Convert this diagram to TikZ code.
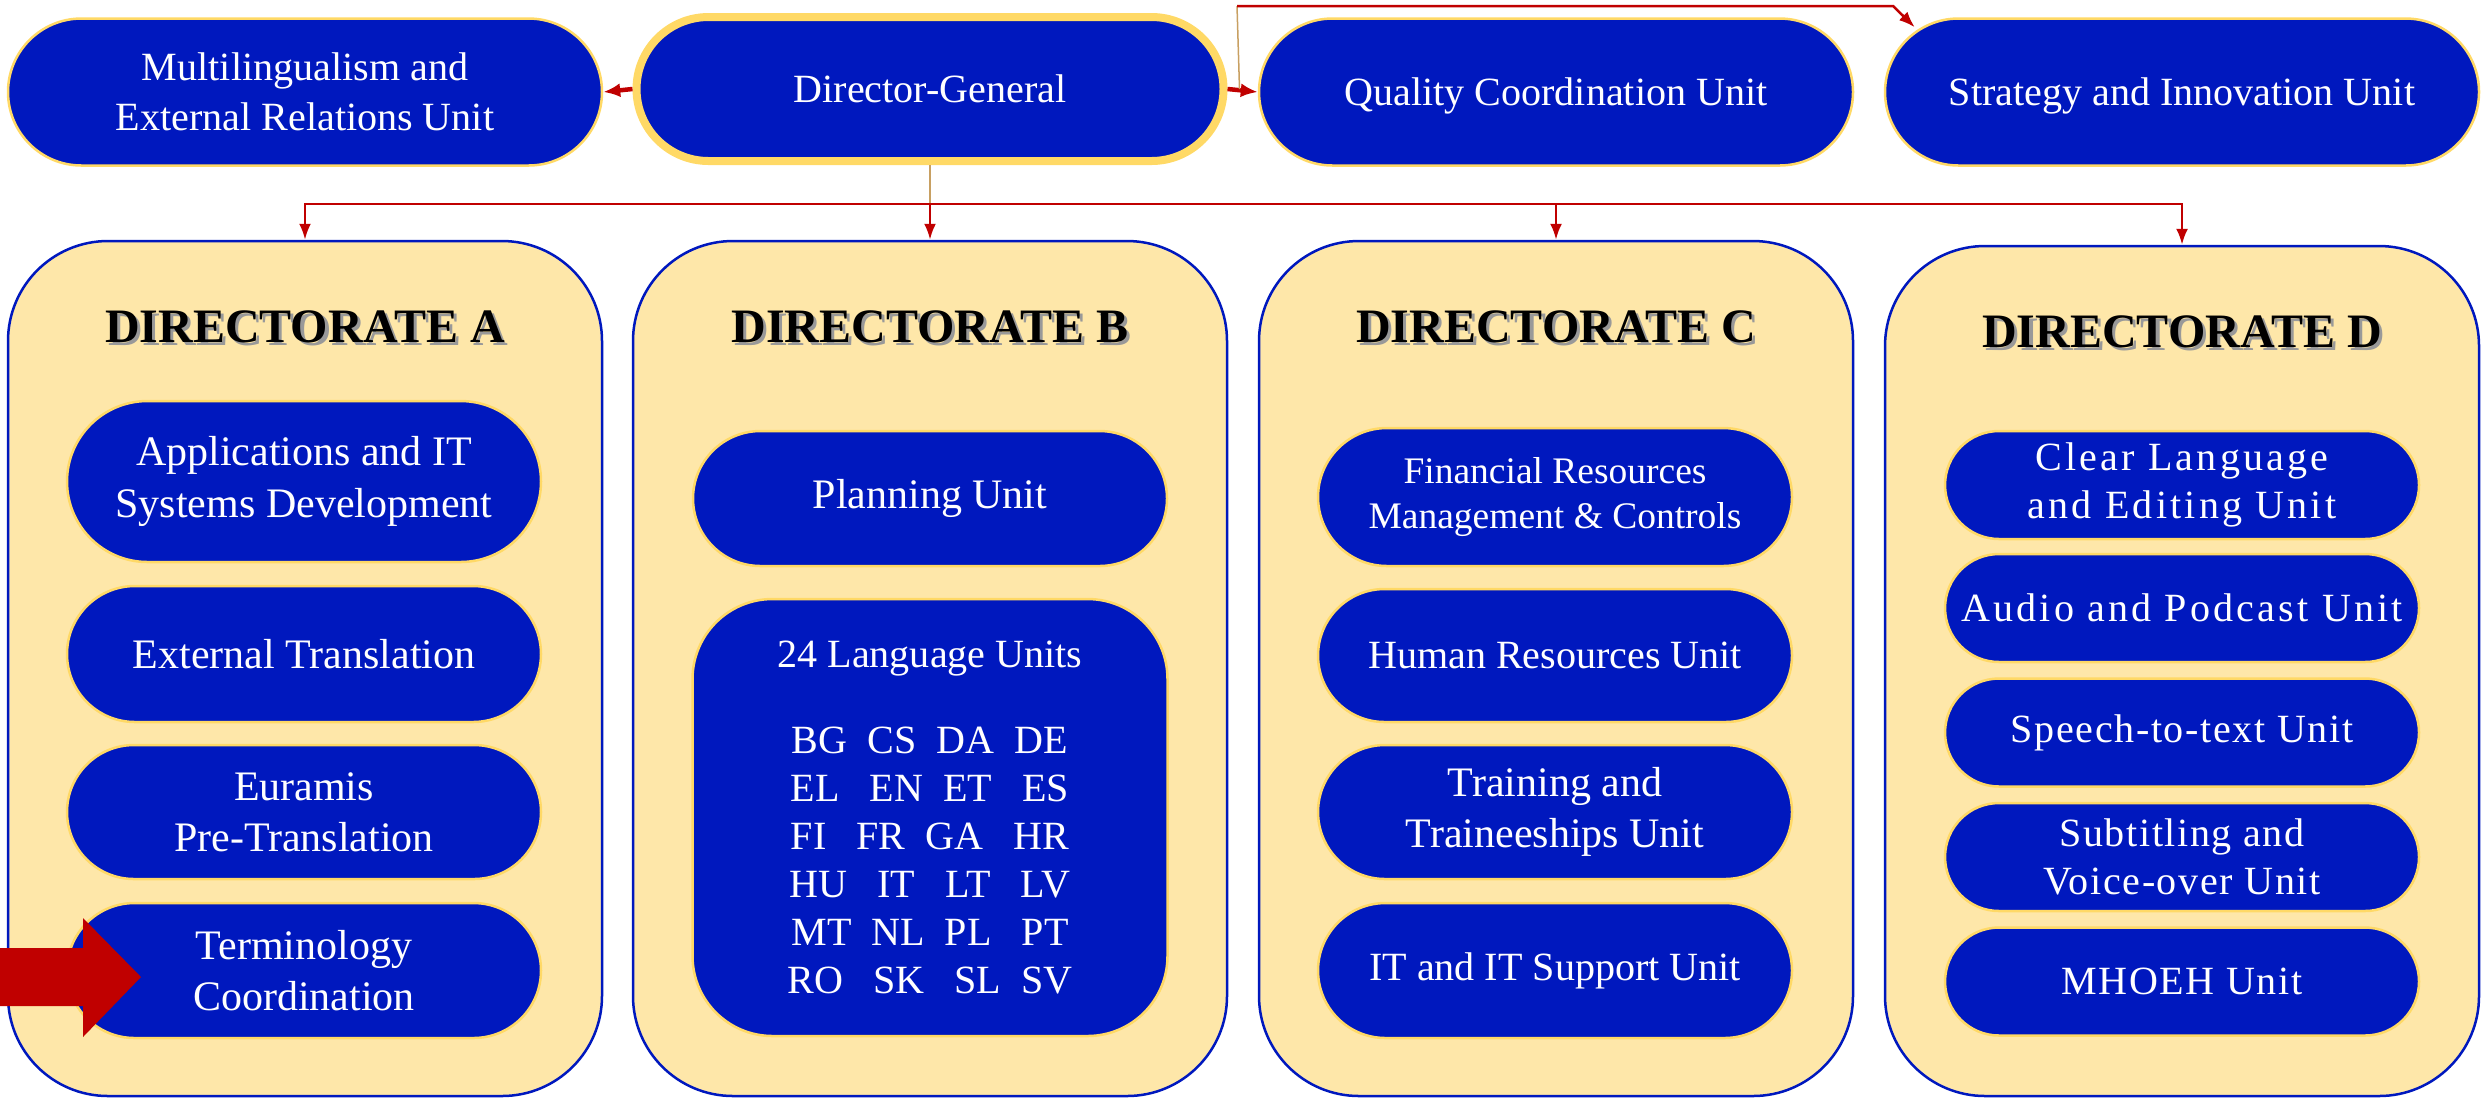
\documentclass[tikz,border=0pt]{standalone}
\usepackage{fontspec}
\setmainfont{Liberation Serif}
\newfontfamily\spacedfont[LetterSpace=4]{Liberation Serif}
\newfontfamily\widerfont[LetterSpace=8]{Liberation Serif}
\usepackage{xcolor}
\usepackage{tikz}
\usetikzlibrary{shapes,arrows,positioning,calc,arrows.meta}

\definecolor{eublue}{HTML}{0018BE}
\definecolor{boxgold}{HTML}{FEE7A9}
\definecolor{rimgold}{HTML}{FFD966}
\definecolor{linkred}{HTML}{C00000}
\definecolor{feedtan}{HTML}{C8A062}

\newcommand{\dirtitle}[1]{\makebox[0pt][l]{\hspace{0.9pt}\raisebox{-0.9pt}{\textcolor{black!40}{#1}}}#1}

\begin{document}
\begin{tikzpicture}[x=0.1mm,y=-0.1mm,
    unit/.style={shape=rounded rectangle, draw=rimgold, line width=0.25mm, fill=eublue, text=white,
        align=center, inner sep=0pt, minimum width=47.4mm, font=\fontsize{11.95}{14.5}\selectfont},
    topunit/.style={unit, minimum width=59.4mm, minimum height=14.7mm, text depth=0pt, font=\fontsize{11.4}{14.2}\selectfont},
    dunit/.style={unit, minimum height=10.8mm, font=\spacedfont\fontsize{11.4}{13.5}\selectfont},
    dirbox/.style={draw=eublue, line width=0.25mm, fill=boxgold, minimum width=59.4mm, rounded corners=10mm, inner sep=0pt},
    dirname/.style={font=\bfseries\fontsize{13.66}{16}\selectfont},
    link/.style={draw=linkred, line width=0.25mm, -{Latex[length=1.6mm,width=1.2mm]}},
    push/.style={draw=linkred, line width=0.45mm, -{Latex[length=1.7mm,width=1.4mm]}},
    feed/.style={draw=feedtan, line width=0.15mm},
]
\useasboundingbox (0,0) rectangle (2484,1098);

    % Top row
    \node[topunit] (ML) at (305,92) {Multilingualism and\\External Relations Unit};
    \node[topunit, line width=0.8mm, minimum width=58.7mm, minimum height=14.4mm] (DG) at (930,89) {Director-General};
    \node[topunit] (QC) at (1556,92) {Quality Coordination Unit};
    \node[topunit] (SI) at (2182,92) {Strategy and Innovation Unit};

    % Directorates
    \node[dirbox, minimum height=85.5mm] (dirA) at (305,668.5) {};
    \node[dirbox, minimum height=85.5mm] (dirB) at (930,668.5) {};
    \node[dirbox, minimum height=85.5mm] (dirC) at (1556,668.5) {};
    \node[dirbox, minimum height=85mm] (dirD) at (2182,671) {};

    \node[dirname] (tA) at (305,328) {\dirtitle{DIRECTORATE A}};
    \node[dirname] (tB) at (930,328) {\dirtitle{DIRECTORATE B}};
    \node[dirname] (tC) at (1556,328) {\dirtitle{DIRECTORATE C}};
    \node[dirname] (tD) at (2182,333) {\dirtitle{DIRECTORATE D}};

    % Directorate A
    \node[unit, minimum height=16.1mm, font=\fontsize{11.95}{15}\selectfont] (appl) at (304,481.5) {Applications and IT\\Systems Development};
    \node[unit, minimum height=13.6mm] (extr) at (304,654) {External Translation};
    \node[unit, minimum height=13.4mm] (eura) at (304,812) {Euramis\\Pre-Translation};
    \node[unit, minimum height=13.5mm] (term) at (304,970.5) {Terminology\\Coordination};
    \fill[linkred] (0,948) -- (83,948) -- (83,918) -- (141,977) -- (83,1037) -- (83,1006) -- (0,1006) -- cycle;

    % Directorate B
    \node[unit, minimum height=13.5mm] (plan) at (930,498.5) {Planning Unit};
    \node[unit, shape=rectangle, rounded corners=8mm, minimum height=43.7mm, minimum width=47.5mm,
        font=\fontsize{11.4}{13.66}\selectfont] (lang) at (930,817.5)
        {24 Language Units\\[10.8pt]
         BG~~CS~~DA~~DE\\ EL~~~EN~~ET~~~ES\\ FI~~~FR~~GA~~~HR\\
         HU~~~IT~~~LT~~~LV\\ MT~~NL~~PL~~~PT\\ RO~~~SK~~~SL~~SV};

    % Directorate C
    \node[unit, minimum height=13.8mm, font=\fontsize{10.67}{12.6}\selectfont] (fin) at (1555,497) {Financial Resources\\Management \& Controls};
    \node[unit, minimum height=13.3mm, font=\fontsize{11.4}{14}\selectfont] (hr) at (1555,655.5) {Human Resources Unit};
    \node[unit, minimum height=13.4mm] (trn) at (1555,812) {Training and\\Traineeships Unit};
    \node[unit, minimum height=13.5mm, font=\fontsize{11.4}{14}\selectfont] (its) at (1555,970.5) {IT and IT Support Unit};

    % Directorate D
    \node[dunit, font=\widerfont\fontsize{11.4}{13.5}\selectfont] (clr) at (2182,485) {Clear Language\\and Editing Unit};
    \node[dunit, font=\widerfont\fontsize{11.4}{13.5}\selectfont] (aud) at (2182,608) {Audio and Podcast Unit};
    \node[dunit] (spt) at (2182,732.5) {Speech-to-text Unit};
    \node[dunit] (sub) at (2182,857) {Subtitling and\\Voice-over Unit};
    \node[dunit] (mho) at (2182,981.5) {MHOEH Unit};

    % Connectors
    \draw[push] (DG.west) -- (ML.east);
    \draw[push] (DG.east) -- (QC.west);
    \coordinate (fork) at ($(DG.east)+(12,0)$);
    \coordinate (ridge) at (1237,6);
    \draw[feed] (fork) -- (ridge);
    \draw[link] (ridge) -- (1893,6) -- ($(SI.west |- SI.north)+(31,10)$);

    \coordinate (bus) at (930,204);
    \draw[feed] (DG.south) -- (bus);
    \draw[link] (bus) -| (dirA.north);
    \draw[link] (bus) -- (dirB.north);
    \draw[link] (bus) -| (dirC.north);
    \draw[link] (bus) -| (dirD.north);

\end{tikzpicture}
\end{document}
